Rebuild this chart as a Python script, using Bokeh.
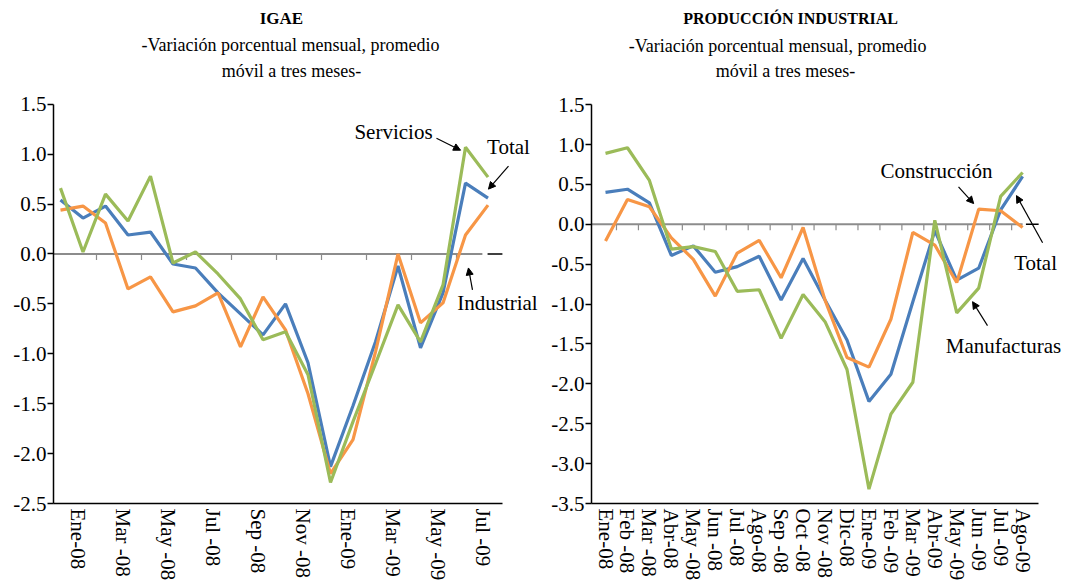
import numpy as np
from bokeh.plotting import figure
from bokeh.layouts import row
from bokeh.models import (FixedTicker, CustomJSTickFormatter, PrintfTickFormatter,
                          Label, Arrow, NormalHead, Range1d)
from bokeh.embed import file_html
from bokeh.resources import INLINE

# ---------------- data: IGAE (left) ----------------
igae_ticklabels = ["Ene-08", "Mar -08", "May -08", "Jul -08", "Sep -08", "Nov -08",
                   "Ene-09", "Mar -09", "May -09", "Jul -09"]
igae_total = [0.54, 0.36, 0.48, 0.19, 0.22, -0.10, -0.14, -0.39, -0.60, -0.81,
              -0.50, -1.09, -2.13, -1.52, -0.88, -0.12, -0.94, -0.39, 0.71, 0.56]
igae_industrial = [0.44, 0.48, 0.31, -0.35, -0.23, -0.58, -0.52, -0.39, -0.93, -0.43,
                   -0.76, -1.40, -2.20, -1.86, -0.98, 0.00, -0.69, -0.49, 0.19, 0.49]
igae_servicios = [0.66, 0.02, 0.60, 0.33, 0.78, -0.09, 0.02, -0.20, -0.45, -0.86,
                  -0.78, -1.21, -2.29, -1.68, -1.10, -0.51, -0.88, -0.31, 1.07, 0.77]

# ---------------- data: Producción industrial (right) ----------------
pi_ticklabels = ["Ene-08", "Feb -08", "Mar -08", "Abr-08", "May -08", "Jun -08",
                 "Jul -08", "Ago-08", "Sep -08", "Oct -08", "Nov -08", "Dic-08",
                 "Ene-09", "Feb -09", "Mar -09", "Abr-09", "May -09", "Jun -09",
                 "Jul -09", "Ago-09"]
pi_total = [0.40, 0.44, 0.27, -0.39, -0.27, -0.60, -0.53, -0.40, -0.95, -0.43,
            -0.95, -1.45, -2.22, -1.88, -0.97, -0.08, -0.70, -0.55, 0.18, 0.60]
pi_construccion = [-0.21, 0.31, 0.22, -0.17, -0.44, -0.90, -0.36, -0.20, -0.67, -0.04,
                   -0.95, -1.67, -1.79, -1.19, -0.10, -0.26, -0.73, 0.19, 0.17, -0.04]
pi_manufacturas = [0.89, 0.96, 0.55, -0.31, -0.28, -0.34, -0.84, -0.82, -1.43, -0.88,
                   -1.22, -1.82, -3.32, -2.38, -1.98, 0.05, -1.11, -0.80, 0.35, 0.65]

BLUE = "#4a7ebb"
ORANGE = "#f79646"
GREEN = "#9bbb59"
GREY = "#8c8c8c"
FONT = "Liberation Serif"


def base_fig(width, bl, xr, yr, xbounds, ybounds, yticks):
    p = figure(width=width, height=583, output_backend="svg", toolbar_location=None,
               title=None, x_range=Range1d(*xr), y_range=Range1d(*yr),
               min_border=0, min_border_left=bl, min_border_right=0,
               min_border_top=0, min_border_bottom=79)
    p.outline_line_color = None
    p.grid.grid_line_color = None
    p.background_fill_color = "white"
    p.border_fill_color = "white"
    # y axis
    p.yaxis.bounds = ybounds
    p.yaxis.ticker = FixedTicker(ticks=yticks)
    p.yaxis.formatter = PrintfTickFormatter(format="%.1f")
    p.yaxis.axis_line_color = "black"
    p.yaxis.axis_line_width = 1.5
    p.yaxis.major_tick_line_color = "black"
    p.yaxis.major_tick_line_width = 1.5
    p.yaxis.major_tick_out = 6
    p.yaxis.major_tick_in = 0
    p.yaxis.minor_tick_line_color = None
    p.yaxis.major_label_standoff = 1
    p.yaxis.major_label_text_font = FONT
    p.yaxis.major_label_text_font_size = "21px"
    p.yaxis.major_label_text_color = "black"
    # x axis
    p.xaxis.bounds = xbounds
    p.xaxis.axis_line_color = "black"
    p.xaxis.axis_line_width = 1.5
    p.xaxis.major_tick_line_color = None
    p.xaxis.minor_tick_line_color = None
    p.xaxis.major_tick_out = 0
    p.xaxis.major_tick_in = 0
    p.xaxis.major_label_standoff = 5
    p.xaxis.major_label_orientation = "vertical"
    p.xaxis.major_label_text_font = FONT
    p.xaxis.major_label_text_font_size = "21px"
    p.xaxis.major_label_text_color = "black"
    return p


def add_text(p, x, y, text, size="21px", style="normal"):
    p.add_layout(Label(x=x, y=y, text=text, text_font=FONT, text_font_size=size,
                       text_font_style=style, text_align="center",
                       text_baseline="middle", text_color="black"))


def add_arrow(p, x0, y0, x1, y1):
    p.add_layout(Arrow(end=NormalHead(size=7, fill_color="black", line_color="black"),
                       x_start=x0, y_start=y0, x_end=x1, y_end=y1,
                       line_color="black", line_width=1.2))


# ================= left chart =================
xl = np.arange(len(igae_total))
p1 = base_fig(538, 53, (-0.311, 21.244), (-2.5, 2.54), (-0.311, 19.644), (-2.5, 1.5),
              [-2.5, -2.0, -1.5, -1.0, -0.5, 0.0, 0.5, 1.0, 1.5])
p1.xaxis.ticker = FixedTicker(ticks=list(0.76 + 2 * np.arange(len(igae_ticklabels))))
p1.xaxis.formatter = CustomJSTickFormatter(args=dict(labels=igae_ticklabels),
                                           code="return labels[index];")
# zero line with small ticks
p1.segment(x0=[-0.311], y0=[0], x1=[18.75], y1=[0], line_color=GREY, line_width=2)
tk1 = 1.6 + 2 * np.arange(9)
p1.segment(x0=tk1, y0=np.zeros(9), x1=tk1, y1=np.full(9, -0.06), line_color=GREY, line_width=1.2)
p1.segment(x0=[18.98], y0=[0], x1=[19.64], y1=[0], line_color="black", line_width=1.5)

p1.line(xl, igae_total, line_color=BLUE, line_width=3.2)
p1.line(xl, igae_industrial, line_color=ORANGE, line_width=3.2)
p1.line(xl, igae_servicios, line_color=GREEN, line_width=3.2)

add_text(p1, 9.82, 2.36, "IGAE", "17px", "bold")
add_text(p1, 10.22, 2.09, "-Variación porcentual mensual, promedio", "18px")
add_text(p1, 10.27, 1.83, "móvil a tres meses-", "18px")
add_text(p1, 14.8, 1.22, "Servicios")
add_arrow(p1, 16.71, 1.16, 17.78, 1.04)
add_text(p1, 19.91, 1.07, "Total")
add_arrow(p1, 19.91, 0.88, 19.02, 0.65)
add_text(p1, 19.42, -0.49, "Industrial")
add_arrow(p1, 18.31, -0.36, 18.13, -0.14)

# ================= right chart =================
xr = np.arange(len(pi_total))
p2 = base_fig(530, 53, (-0.638, 21.09), (-3.5, 2.806), (-0.638, 19.73), (-3.5, 1.5),
              [-3.5, -3.0, -2.5, -2.0, -1.5, -1.0, -0.5, 0.0, 0.5, 1.0, 1.5])
p2.xaxis.ticker = FixedTicker(ticks=list(np.arange(len(pi_ticklabels))))
p2.xaxis.formatter = CustomJSTickFormatter(args=dict(labels=pi_ticklabels),
                                           code="return labels[index];")
p2.segment(x0=[-0.638], y0=[0], x1=[19.0], y1=[0], line_color=GREY, line_width=2)
tk2 = 0.5 + np.arange(19)
p2.segment(x0=tk2, y0=np.zeros(19), x1=tk2, y1=np.full(19, -0.075), line_color=GREY, line_width=1.2)
p2.segment(x0=[19.15], y0=[0], x1=[19.73], y1=[0], line_color="black", line_width=1.5)

p2.line(xr, pi_total, line_color=BLUE, line_width=3.2)
p2.line(xr, pi_construccion, line_color=ORANGE, line_width=3.2)
p2.line(xr, pi_manufacturas, line_color=GREEN, line_width=3.2)

add_text(p2, 8.43, 2.58, "PRODUCCIÓN INDUSTRIAL", "16px", "bold")
add_text(p2, 7.84, 2.24, "-Variación porcentual mensual, promedio", "18px")
add_text(p2, 8.2, 1.92, "móvil a tres meses-", "18px")
add_text(p2, 15.08, 0.67, "Construcción")
add_arrow(p2, 16.08, 0.47, 16.77, 0.26)
add_text(p2, 19.59, -0.48, "Total")
add_arrow(p2, 19.91, -0.23, 18.72, 0.36)
add_text(p2, 18.13, -1.53, "Manufacturas")
add_arrow(p2, 17.40, -1.27, 16.72, -0.97)

layout = row(p1, p2)
open("out.html", "w").write(file_html(layout, INLINE))
